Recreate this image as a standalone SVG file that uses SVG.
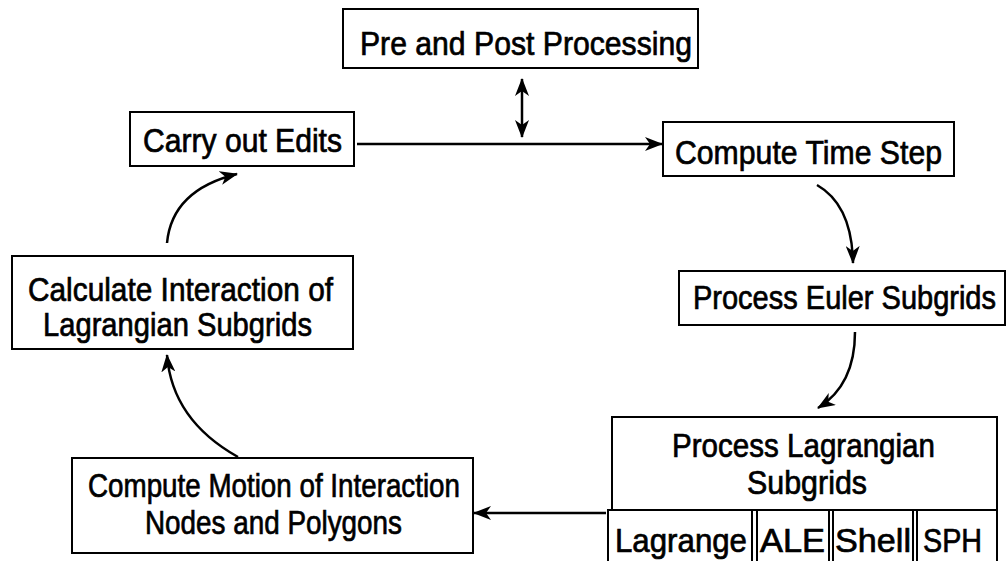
<svg xmlns="http://www.w3.org/2000/svg" width="1008" height="561" viewBox="0 0 1008 561">
<defs>
<style>
.box{fill:#fff;stroke:#000;stroke-width:2}
.t{font-family:"Liberation Sans",Arial,sans-serif;font-size:33px;fill:#000;stroke:#000;stroke-width:0.7}
.c{fill:none;stroke:#000;stroke-width:2.5}
</style>
<marker id="ah" markerUnits="userSpaceOnUse" markerWidth="18" markerHeight="14" viewBox="0 0 18 14" refX="17" refY="7" orient="auto-start-reverse">
<path d="M0,0 L18,7 L0,14 L5,7 z" fill="#000"/>
</marker>
</defs>
<rect width="1008" height="561" fill="#fff"/>
<g id="connectors">
<line class="c" x1="522" y1="79" x2="522" y2="137" marker-start="url(#ah)" marker-end="url(#ah)"/>
<line class="c" x1="357" y1="144" x2="662" y2="144" marker-end="url(#ah)"/>
<path class="c" d="M817,185 Q852,205 853,263" marker-end="url(#ah)"/>
<path class="c" d="M855,332 Q855,385 818,408" marker-end="url(#ah)"/>
<line class="c" x1="606" y1="513" x2="474" y2="513" marker-end="url(#ah)"/>
<path class="c" d="M238,457 Q172,420 167,355" marker-end="url(#ah)"/>
<path class="c" d="M167,243 Q172,190 237,174" marker-end="url(#ah)"/>
</g>
<g id="pre-post">
<rect class="box" x="343" y="9" width="355" height="59"/>
<text class="t" x="360" y="55" textLength="332" lengthAdjust="spacingAndGlyphs">Pre and Post Processing</text>
</g>
<g id="carry-out-edits">
<rect class="box" x="130" y="112" width="224" height="54"/>
<text class="t" x="143" y="152" textLength="199" lengthAdjust="spacingAndGlyphs">Carry out Edits</text>
</g>
<g id="compute-time-step">
<rect class="box" x="663" y="122" width="291" height="54"/>
<text class="t" x="675" y="164" textLength="267" lengthAdjust="spacingAndGlyphs">Compute Time Step</text>
</g>
<g id="process-euler">
<rect class="box" x="679" y="271" width="326" height="54"/>
<text class="t" x="693" y="309" textLength="303" lengthAdjust="spacingAndGlyphs">Process Euler Subgrids</text>
</g>
<g id="process-lagrangian">
<rect class="box" x="612" y="417" width="385" height="93"/>
<text class="t" x="672" y="457" textLength="263" lengthAdjust="spacingAndGlyphs">Process Lagrangian</text>
<text class="t" x="747" y="494" textLength="120" lengthAdjust="spacingAndGlyphs">Subgrids</text>
</g>
<g id="lagrange">
<rect class="box" x="608" y="510" width="144" height="60"/>
<text class="t" x="615" y="552" textLength="132" lengthAdjust="spacingAndGlyphs">Lagrange</text>
</g>
<g id="ale">
<rect class="box" x="757" y="510" width="72" height="60"/>
<text class="t" x="760" y="552" textLength="65" lengthAdjust="spacingAndGlyphs">ALE</text>
</g>
<g id="shell">
<rect class="box" x="833" y="510" width="80" height="60"/>
<text class="t" x="835" y="552" textLength="76" lengthAdjust="spacingAndGlyphs">Shell</text>
</g>
<g id="sph">
<rect class="box" x="917" y="510" width="80" height="60"/>
<text class="t" x="923" y="552" textLength="59" lengthAdjust="spacingAndGlyphs">SPH</text>
</g>
<g id="compute-motion">
<rect class="box" x="72" y="458" width="401" height="95"/>
<text class="t" x="88" y="497" textLength="372" lengthAdjust="spacingAndGlyphs">Compute Motion of Interaction</text>
<text class="t" x="145" y="534" textLength="257" lengthAdjust="spacingAndGlyphs">Nodes and Polygons</text>
</g>
<g id="calculate-interaction">
<rect class="box" x="12" y="256" width="341" height="93"/>
<text class="t" x="28" y="301" textLength="305" lengthAdjust="spacingAndGlyphs">Calculate Interaction of</text>
<text class="t" x="43" y="336" textLength="269" lengthAdjust="spacingAndGlyphs">Lagrangian Subgrids</text>
</g>
</svg>
